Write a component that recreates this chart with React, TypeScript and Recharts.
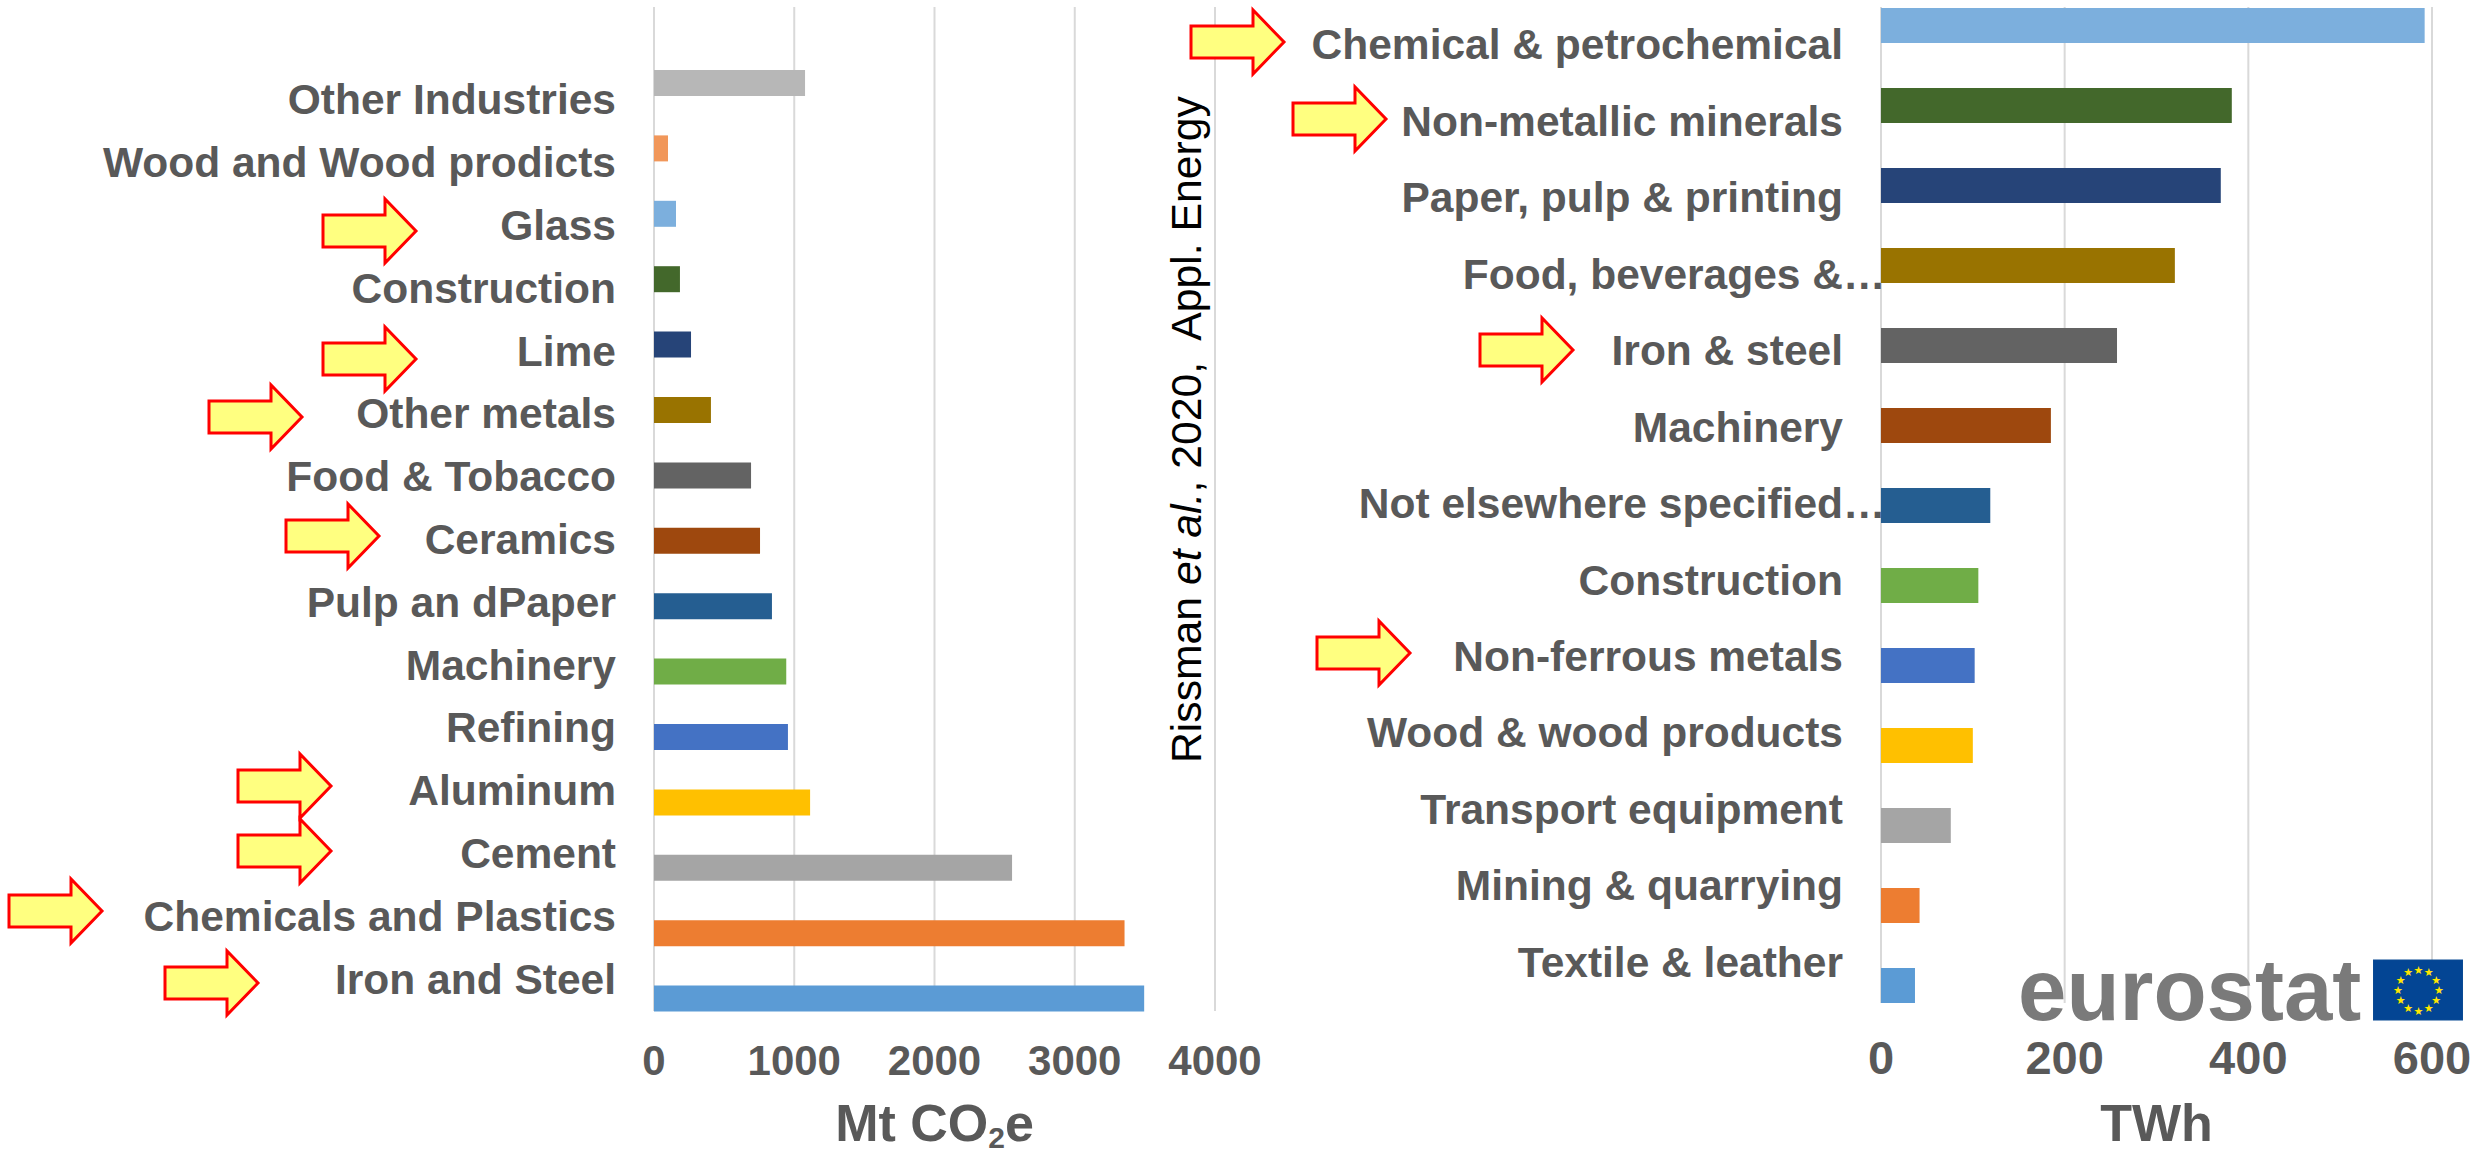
import { Bar, BarChart, CartesianGrid, Cell, XAxis, YAxis } from 'recharts';

const FONT = '"Liberation Sans", Arial, sans-serif';
const TEXT_GREY = '#595959';

// Emissions by industry, Mt CO2e
const emissionCategories = [
  'Other Industries', 'Wood and Wood prodicts', 'Glass', 'Construction', 'Lime',
  'Other metals', 'Food & Tobacco', 'Ceramics', 'Pulp an dPaper', 'Machinery',
  'Refining', 'Aluminum', 'Cement', 'Chemicals and Plastics', 'Iron and Steel',
];
const emissionValues = [1077, 100, 157, 185, 264, 406, 692, 756, 841, 943, 955, 1113, 2553, 3355, 3495];
const emissionColors = [
  '#B7B7B7', '#F1975A', '#7CAFDD', '#43682B', '#264478', '#997300', '#636363', '#9E480E',
  '#255E91', '#70AD47', '#4472C4', '#FFC000', '#A5A5A5', '#ED7D31', '#5B9BD5',
];
const emissionTicks = [0, 1000, 2000, 3000, 4000];

// Final energy use by sector, TWh
const energyCategories = [
  'Chemical & petrochemical', 'Non-metallic minerals', 'Paper, pulp & printing', 'Food, beverages &…',
  'Iron & steel', 'Machinery', 'Not elsewhere specified…', 'Construction', 'Non-ferrous metals',
  'Wood & wood products', 'Transport equipment', 'Mining & quarrying', 'Textile & leather',
];
const energyValues = [592, 382, 370, 320, 257, 185, 119, 106, 102, 100, 76, 42, 37];
const energyColors = [
  '#7CAFDD', '#43682B', '#264478', '#997300', '#636363', '#9E480E', '#255E91',
  '#70AD47', '#4472C4', '#FFC000', '#A5A5A5', '#ED7D31', '#5B9BD5',
];
const energyTicks = [0, 200, 400, 600];

// Callout arrows beside the highlighted sectors, placed by their tips
const arrowTips = [
  [416, 231], [416, 359], [302, 417], [379, 536], [331, 786], [331, 851], [102, 911], [258, 983],
  [1284, 42], [1386, 119], [1573, 350], [1410, 653],
];

function CategoryTick({ x, y, payload }: any) {
  const value: string = payload.value;
  const clipped = value.endsWith('…');
  const common = { y, dy: '0.355em', fill: TEXT_GREY, fontFamily: FONT, fontSize: 42.5, fontWeight: 700 };
  return (
    <g>
      <text {...common} x={x} textAnchor="end">{clipped ? value.slice(0, -1) : value}</text>
      {clipped && <text {...common} x={x} textAnchor="start">…</text>}
    </g>
  );
}

function AxisTitle({ viewBox, text, sub, tail }: any) {
  return (
    <text
      x={viewBox.x + viewBox.width / 2}
      y={viewBox.y + viewBox.height - 12}
      textAnchor="middle"
      fill={TEXT_GREY}
      fontFamily={FONT}
      fontSize={52}
      fontWeight={700}
    >
      {text}
      {sub && <tspan dy={7} fontSize={30}>{sub}</tspan>}
      {tail && <tspan dy={-7}>{tail}</tspan>}
    </text>
  );
}

interface PanelProps {
  categories: string[];
  values: number[];
  colors: string[];
  ticks: number[];
  left: number;
  width: number;
  axisWidth: number;
  marginRight: number;
  bottomHeight: number;
  barSize: number;
  barPadding: { top: number; bottom: number };
  labelPadding: { top: number; bottom: number };
  tickFontSize: number;
  tickMargin: number;
  title: any;
}

function Panel(props: PanelProps) {
  const { categories, values, colors, ticks } = props;
  const data = categories.map((name, i) => ({ name, value: values[i] }));
  return (
    <div style={{ position: 'absolute', left: props.left, top: 0 }}>
      <BarChart
        layout="vertical"
        width={props.width}
        height={1153}
        data={data}
        margin={{ top: 7, right: props.marginRight, bottom: 0, left: 0 }}
      >
        <CartesianGrid horizontal={false} stroke="#D9D9D9" strokeWidth={2} />
        <XAxis
          type="number"
          domain={[ticks[0], ticks[ticks.length - 1]]}
          ticks={ticks}
          interval={0}
          height={props.bottomHeight}
          axisLine={false}
          tickLine={false}
          tickMargin={props.tickMargin}
          tick={{ fill: TEXT_GREY, fontFamily: FONT, fontSize: props.tickFontSize, fontWeight: 700 }}
          label={props.title}
        />
        {/* bars and labels run on slightly different spacing, so each gets its own category axis */}
        <YAxis type="category" dataKey="name" hide width={0} padding={props.barPadding} />
        <YAxis
          yAxisId="labels"
          type="category"
          dataKey="name"
          width={props.axisWidth}
          interval={0}
          axisLine={false}
          tickLine={false}
          tickMargin={32}
          padding={props.labelPadding}
          tick={<CategoryTick />}
        />
        <Bar dataKey="value" barSize={props.barSize} isAnimationActive={false}>
          {data.map((d, i) => (
            <Cell key={d.name} fill={colors[i]} />
          ))}
        </Bar>
      </BarChart>
    </div>
  );
}

function Arrow({ tip }: { tip: number[] }) {
  const [x, y] = tip;
  const points = [
    [x - 93, y - 16], [x - 31, y - 16], [x - 31, y - 32], [x, y],
    [x - 31, y + 32], [x - 31, y + 16], [x - 93, y + 16],
  ];
  return <polygon points={points.join(' ')} fill="#FFFF80" stroke="#FF0000" strokeWidth={3} />;
}

function EuFlag() {
  const cx = 2418.5;
  const cy = 990;
  const stars = Array.from({ length: 12 }, (_, i) => (i * Math.PI) / 6);
  return (
    <g>
      <rect x={2373.5} y={960} width={89} height={60} fill="#034594" stroke="#0A4A94" />
      {stars.map((a) => (
        <text
          key={a}
          x={cx + 20.5 * Math.sin(a)}
          y={cy - 20.5 * Math.cos(a) + 4}
          textAnchor="middle"
          fill="#FFE600"
          fontFamily='"DejaVu Sans", sans-serif'
          fontSize={11}
        >
          ★
        </text>
      ))}
    </g>
  );
}

export default function App() {
  return (
    <div style={{ position: 'absolute', left: 0, top: 0, width: 2483, height: 1153, overflow: 'hidden', background: '#fff' }}>
      <Panel
        categories={emissionCategories}
        values={emissionValues}
        colors={emissionColors}
        ticks={emissionTicks}
        left={0}
        width={1300}
        axisWidth={654}
        marginRight={85}
        bottomHeight={142}
        barSize={26}
        barPadding={{ top: 43, bottom: -20 }}
        labelPadding={{ top: 61, bottom: 1 }}
        tickFontSize={42}
        tickMargin={28}
        title={<AxisTitle text="Mt CO" sub="2" tail="e" />}
      />
      <Panel
        categories={energyCategories}
        values={energyValues}
        colors={energyColors}
        ticks={energyTicks}
        left={1240}
        width={1243}
        axisWidth={641}
        marginRight={51}
        bottomHeight={150}
        barSize={35}
        barPadding={{ top: -22, bottom: -22 }}
        labelPadding={{ top: -1, bottom: 3 }}
        tickFontSize={47}
        tickMargin={32}
        title={<AxisTitle text="TWh" />}
      />
      <svg width={2483} height={1153} style={{ position: 'absolute', left: 0, top: 0 }}>
        {arrowTips.map((tip) => (
          <Arrow key={tip.join()} tip={tip} />
        ))}
        <text
          transform="translate(1201 763) rotate(-90)"
          fill="#000"
          fontFamily={FONT}
          fontSize={42.7}
          xmlSpace="preserve"
        >
          Rissman <tspan fontStyle="italic">et al.</tspan>, 2020,{'  '}Appl. Energy
        </text>
        <text x={2018} y={1020} fill="#7A7A7A" fontFamily={FONT} fontSize={87} fontWeight={700}>
          eurostat
        </text>
        <EuFlag />
      </svg>
    </div>
  );
}
